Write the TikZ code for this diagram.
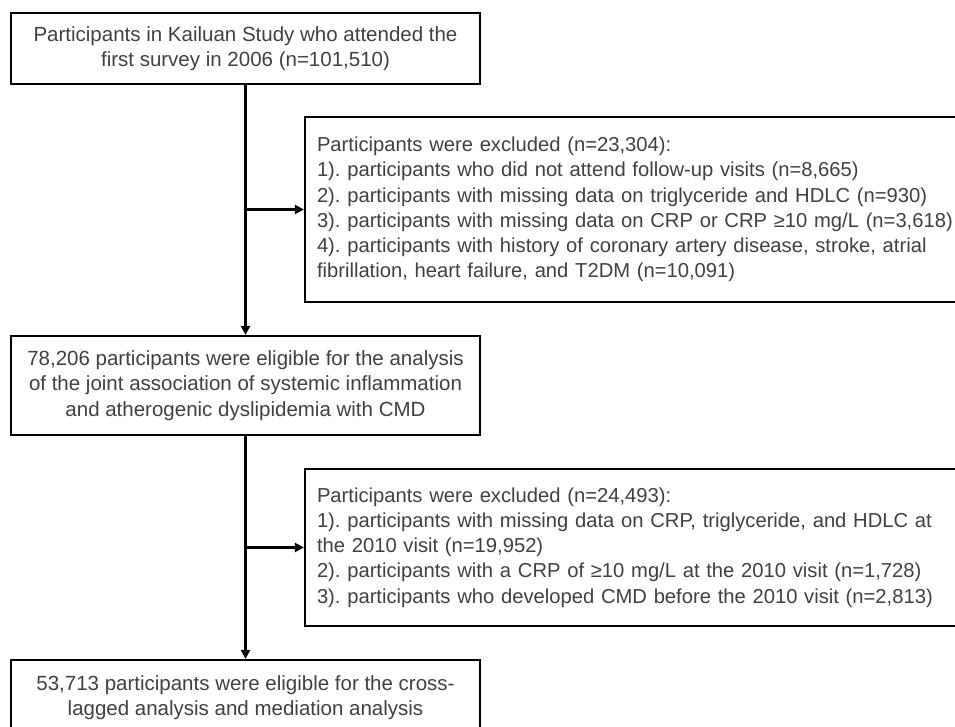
\documentclass[tikz,border=0pt]{standalone}
\usepackage{fontspec}
\setmainfont{Liberation Sans}
\usetikzlibrary{arrows.meta,calc}
\definecolor{txtgray}{HTML}{404040}
\frenchspacing
\begin{document}
\begin{tikzpicture}[x=1pt,y=-1pt,
  box/.style={draw=black,line width=2.2pt,text=txtgray,inner sep=0pt,
    font=\fontsize{20.5}{25.5}\selectfont\frenchspacing},
  mainbox/.style={box,minimum width=469pt,align=center},
  exclbox/.style={box,text width=680pt,inner xsep=12pt,align=left,
    font=\fontsize{20.2}{25.2}\selectfont\frenchspacing},
  arr/.style={line width=2.2pt,-{Triangle[length=9pt,width=9pt]}}]
\useasboundingbox (0,0) rectangle (955,727);
\node[mainbox,minimum height=71pt] (b1) at (245.5,48.5)
  {Participants in Kailuan Study who attended the\\first survey in 2006 (n=101,510)};
\node[exclbox,minimum height=185pt] (e1) at (657,209.5)
  {Participants were excluded (n=23,304):\\
   1). participants who did not attend follow-up visits (n=8,665)\\
   2). participants with missing data on triglyceride and HDLC (n=930)\\
   3). participants with missing data on CRP or CRP ≥10 mg/L (n=3,618)\\
   4). participants with history of coronary artery disease, stroke, atrial\\
   fibrillation, heart failure, and T2DM (n=10,091)};
\node[mainbox,minimum height=99pt] (b2) at (245.5,385.5)
  {78,206 participants were eligible for the analysis\\of the joint association of systemic inflammation\\and atherogenic dyslipidemia with CMD};
\node[exclbox,minimum height=157pt] (e2) at (657,547.5)
  {Participants were excluded (n=24,493):\\
   1). participants with missing data on CRP, triglyceride, and HDLC at\\
   the 2010 visit (n=19,952)\\
   2). participants with a CRP of ≥10 mg/L at the 2010 visit (n=1,728)\\
   3). participants who developed CMD before the 2010 visit (n=2,813)};
\node[mainbox,minimum height=75pt] (b3) at (245.5,697.5)
  {53,713 participants were eligible for the cross-\\lagged analysis and mediation analysis};
\coordinate (j1) at (b1.south |- e1.west);
\coordinate (j2) at (b2.south |- e2.west);
\draw[arr] (b1.south) -- (b2.north);
\draw[arr] (b2.south) -- (b3.north);
\draw[arr] (j1) -- (e1.west);
\draw[arr] (j2) -- (e2.west);
\end{tikzpicture}
\end{document}
